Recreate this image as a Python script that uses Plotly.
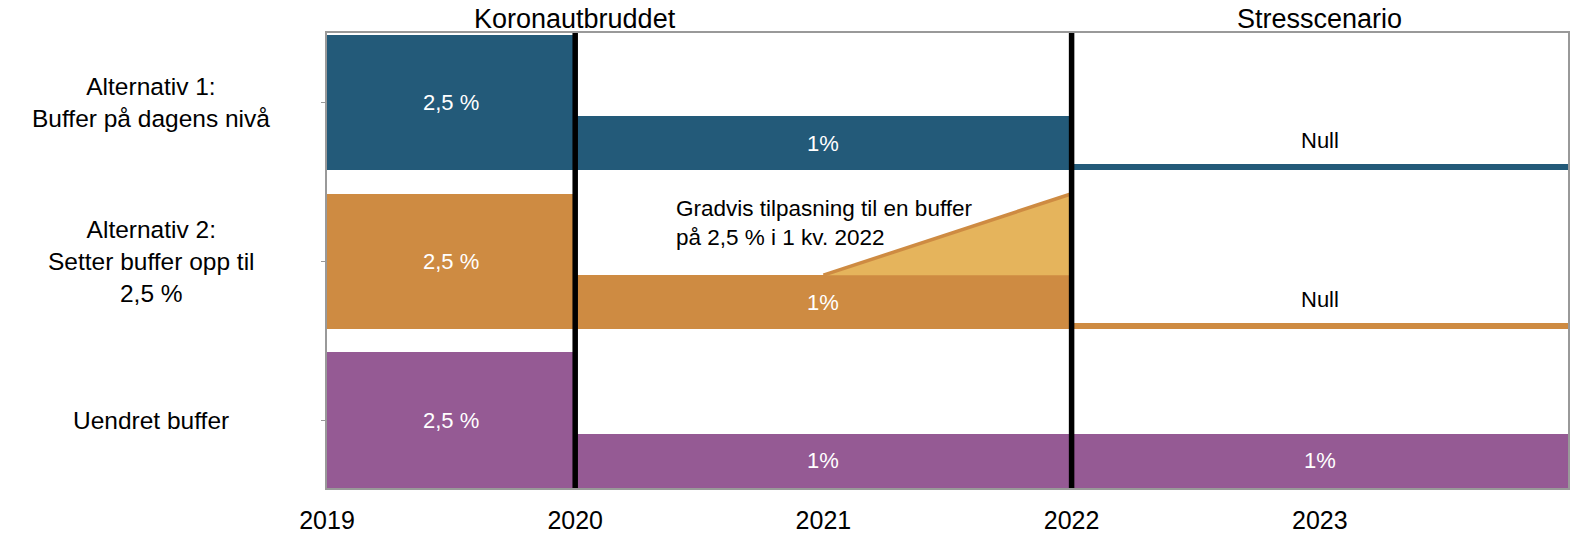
import plotly.graph_objects as go

# rows from bottom to top
row_names = ["Uendret buffer", "Alternativ 2:<br>Setter buffer opp til<br>2,5 %", "Alternativ 1:<br>Buffer på dagens nivå"]
row_base = [0, 2.92, 5.85]
row_colors = ["#955a94", "#ce8b42", "#235a79"]

# periods per row: start year, end year, buffer level (%)
starts = [[2019, 2020, 2022], [2019, 2020, 2022], [2019, 2020, 2022]]
ends = [[2020, 2022, 2024], [2020, 2022, 2024], [2020, 2022, 2024]]
levels = [[2.5, 1.0, 1.0], [2.5, 1.0, 0.12], [2.5, 1.0, 0.12]]
labels = [["2,5 %", "1%", "1%"], ["2,5 %", "1%", "Null"], ["2,5 %", "1%", "Null"]]

# gradual ramp for alternative 2
ramp_x = [2021, 2022]
ramp_level = [1.0, 2.5]

events_x = [2020, 2022]
periods = ["Koronautbruddet", "Stresscenario"]
periods_x = [2020, 2023]

years = [2019, 2020, 2021, 2022, 2023]

FONT = "Liberation Sans, Arial, Helvetica, sans-serif"

fig = go.Figure()
annotations = []

for i in range(len(row_names)):
    b = row_base[i]
    mids = [(s + e) / 2 for s, e in zip(starts[i], ends[i])]
    widths = [e - s for s, e in zip(starts[i], ends[i])]
    fig.add_trace(go.Bar(
        x=mids, y=levels[i], base=[b] * len(mids), width=widths,
        marker=dict(color=row_colors[i], line=dict(width=0)),
        showlegend=False, hoverinfo="skip",
    ))
    for m, lv, txt in zip(mids, levels[i], labels[i]):
        if txt == "Null":
            annotations.append(dict(x=m, y=b + lv, text=txt, showarrow=False, yanchor="middle",
                                    yshift=23, font=dict(size=22, color="black", family=FONT)))
        else:
            annotations.append(dict(x=m, y=b + lv / 2, text=txt, showarrow=False,
                                    font=dict(size=22, color="white", family=FONT)))
    annotations.append(dict(xref="paper", x=-0.1415, y=b + 1.25, text=row_names[i], showarrow=False,
                            xanchor="center", align="center",
                            font=dict(size=24.5, color="black", family=FONT)))

b2 = row_base[1]
fig.add_trace(go.Scatter(
    x=[ramp_x[0], ramp_x[1], ramp_x[1], ramp_x[0]],
    y=[b2 + ramp_level[0], b2 + ramp_level[1], b2 + ramp_level[0], b2 + ramp_level[0]],
    fill="toself", fillcolor="#e5b45c", mode="none", showlegend=False, hoverinfo="skip",
))
fig.add_trace(go.Scatter(
    x=ramp_x, y=[b2 + v for v in ramp_level], mode="lines",
    line=dict(color="#ce8b42", width=3.5), showlegend=False, hoverinfo="skip",
))
annotations.append(dict(x=2020.4, y=b2 + 2.5, text="Gradvis tilpasning til en buffer<br>på 2,5 % i 1 kv. 2022",
                        showarrow=False, xanchor="left", yanchor="top", align="left",
                        font=dict(size=22.5, color="black", family=FONT)))

for px, pt in zip(periods_x, periods):
    annotations.append(dict(x=px, yref="paper", y=1, text=pt, showarrow=False, yanchor="bottom", yshift=-3,
                            font=dict(size=27, color="black", family=FONT)))

shapes = [dict(type="line", x0=ex, x1=ex, yref="paper", y0=0, y1=1, line=dict(color="black", width=5.5))
          for ex in events_x]

fig.update_layout(
    width=1592, height=540,
    margin=dict(l=327, r=24, t=33, b=52),
    plot_bgcolor="white", paper_bgcolor="white",
    barmode="overlay", bargap=0,
    annotations=annotations, shapes=shapes,
    font=dict(family=FONT, color="black"),
)
fig.update_xaxes(range=[2019, 2024], tickvals=years, ticktext=[str(y) for y in years], automargin=False,
                 showgrid=False, zeroline=False, showline=True, mirror=True, linecolor="#999", linewidth=1.5,
                 ticks="", tickfont=dict(size=25, family=FONT, color="black"), ticklabelstandoff=9)
fig.update_yaxes(range=[0, 8.38], tickvals=[b + 1.25 for b in row_base], ticktext=["", "", ""], automargin=False,
                 showgrid=False, zeroline=False, showline=True, mirror=True, linecolor="#999", linewidth=1.5,
                 ticks="outside", ticklen=4, tickcolor="#999")

fig.write_html("out.html", config={"displayModeBar": False},
               post_script="document.body.style.margin = '0';")
